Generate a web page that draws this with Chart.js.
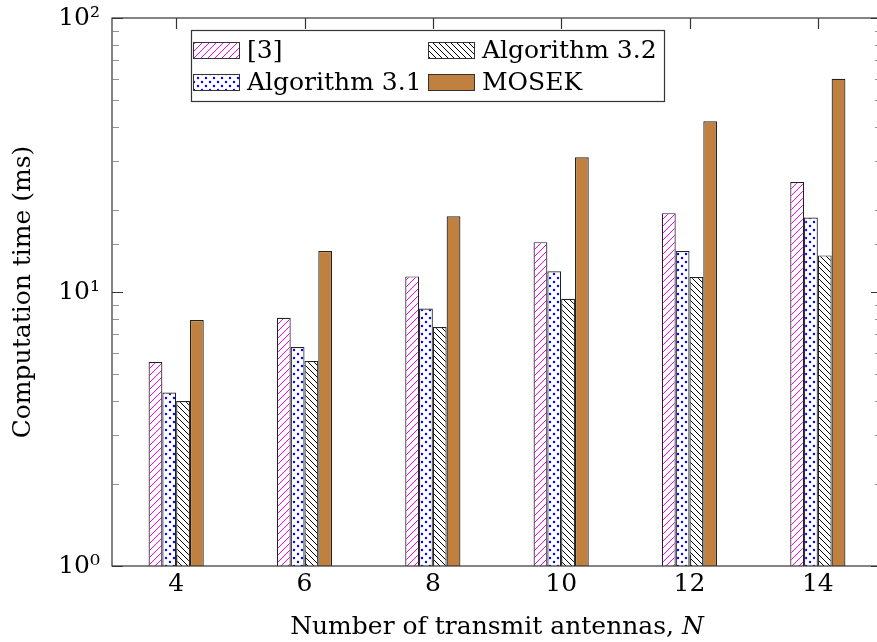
<!DOCTYPE html>
<html>
<head>
<meta charset="utf-8">
<script src="https://cdn.jsdelivr.net/npm/chart.js@4"></script>
<style>
  html, body { margin: 0; padding: 0; background: #fff; overflow: hidden; }
  canvas { display: block; }
</style>
</head>
<body>
<canvas id="timeChart" width="882" height="642"></canvas>
<script>
// number of transmit antennas
const antennas = ['4', '6', '8', '10', '12', '14'];

// computation time (ms)
const ref3Times = [5.55, 8.05, 11.4, 15.2, 19.4, 25.2];
const alg31Times = [4.3, 6.3, 8.7, 11.9, 14.1, 18.7];
const alg32Times = [4.0, 5.6, 7.45, 9.45, 11.35, 13.6];
const mosekTimes = [7.9, 14.1, 18.9, 31.0, 42.0, 60.0];

const seriesNames = ['[3]', 'Algorithm 3.1', 'Algorithm 3.2', 'MOSEK'];
const yTickLabels = { 1: '10\u2070', 10: '10\u00b9', 100: '10\u00b2' };

const FONT = "'DejaVu Serif', 'Liberation Serif', serif";
const FONT_SIZE = 25;

function makePattern(kind) {
    const c = document.createElement('canvas');
    const p = c.getContext('2d');
    if (kind === 'ne') {
        c.width = 7; c.height = 7;
        p.fillStyle = '#fff'; p.fillRect(0, 0, 7, 7);
        p.strokeStyle = '#ff00ff'; p.lineWidth = 1;
        p.beginPath();
        p.moveTo(-1, 8); p.lineTo(8, -1);
        p.moveTo(-1, 1); p.lineTo(1, -1);
        p.moveTo(6, 8); p.lineTo(8, 6);
        p.stroke();
    } else if (kind === 'nw') {
        c.width = 6; c.height = 6;
        p.fillStyle = '#fff'; p.fillRect(0, 0, 6, 6);
        p.strokeStyle = '#000'; p.lineWidth = 1;
        p.beginPath();
        p.moveTo(-1, -1); p.lineTo(7, 7);
        p.moveTo(5, -1); p.lineTo(7, 1);
        p.moveTo(-1, 5); p.lineTo(1, 7);
        p.stroke();
    } else {
        c.width = 8; c.height = 8;
        p.fillStyle = '#fff'; p.fillRect(0, 0, 8, 8);
        p.fillStyle = '#0000ff';
        p.beginPath(); p.arc(2, 2, 1.2, 0, Math.PI * 2); p.fill();
        p.beginPath(); p.arc(6, 6, 1.2, 0, Math.PI * 2); p.fill();
    }
    return p.createPattern(c, 'repeat');
}

const fills = [makePattern('ne'), makePattern('dots'), makePattern('nw'), '#bf8040'];
const seriesData = [ref3Times, alg31Times, alg32Times, mosekTimes];

// frame, inward ticks, x title with italic N, and the boxed legend
const framePlugin = {
    id: 'frame',
    afterDraw(chart) {
        const ctx = chart.ctx;
        const a = chart.chartArea;
        const xs = chart.scales.x;
        const ys = chart.scales.y;
        ctx.save();
        ctx.strokeStyle = '#333';
        ctx.lineWidth = 1.2;
        ctx.strokeRect(a.left, a.top, a.right - a.left, a.bottom - a.top);

        // x ticks, bottom and top
        ctx.beginPath();
        antennas.forEach((_, i) => {
            const px = Math.round(xs.getPixelForTick(i)) + 0.5;
            ctx.moveTo(px, a.bottom); ctx.lineTo(px, a.bottom - 11);
            ctx.moveTo(px, a.top); ctx.lineTo(px, a.top + 11);
        });
        ctx.stroke();

        // y ticks, left and right
        ys.ticks.forEach(t => {
            const py = Math.round(ys.getPixelForValue(t.value)) + 0.5;
            const major = yTickLabels[t.value] !== undefined;
            const len = major ? 11 : 7;
            ctx.beginPath();
            ctx.lineWidth = major ? 1.2 : 0.8;
            ctx.strokeStyle = major ? '#333' : '#777';
            ctx.moveTo(a.left, py); ctx.lineTo(a.left + len, py);
            ctx.moveTo(a.right, py); ctx.lineTo(a.right - len, py);
            ctx.stroke();
        });

        // x axis title
        ctx.fillStyle = '#000';
        ctx.textBaseline = 'alphabetic';
        const part1 = 'Number of transmit antennas, ';
        ctx.font = FONT_SIZE + 'px ' + FONT;
        const w1 = ctx.measureText(part1).width;
        ctx.font = 'italic ' + FONT_SIZE + 'px ' + FONT;
        const w2 = ctx.measureText('N').width;
        const x0 = (a.left + a.right) / 2 - (w1 + w2) / 2;
        ctx.font = FONT_SIZE + 'px ' + FONT;
        ctx.fillText(part1, x0, 634);
        ctx.font = 'italic ' + FONT_SIZE + 'px ' + FONT;
        ctx.fillText('N', x0 + w1, 634);

        // legend box
        const lx = 191, ly = 30, lw = 473, lh = 71;
        ctx.fillStyle = '#fff';
        ctx.fillRect(lx, ly, lw, lh);
        ctx.strokeStyle = '#333';
        ctx.lineWidth = 1.2;
        ctx.strokeRect(lx + 0.5, ly + 0.5, lw, lh);
        const slots = [[193, 42], [193, 74], [428, 42], [428, 74]];
        ctx.font = FONT_SIZE + 'px ' + FONT;
        ctx.textBaseline = 'middle';
        chart.data.datasets.forEach((ds, i) => {
            const [sx, sy] = slots[i];
            ctx.fillStyle = ds.backgroundColor;
            ctx.fillRect(sx, sy, 46, 16);
            ctx.strokeStyle = '#333';
            ctx.lineWidth = 1;
            ctx.strokeRect(sx + 0.5, sy + 0.5, 46, 16);
            ctx.fillStyle = '#000';
            ctx.fillText(ds.label, sx + 54, sy + 9);
        });
        ctx.restore();
    }
};

new Chart(document.getElementById('timeChart'), {
    type: 'bar',
    data: {
        labels: antennas,
        datasets: seriesNames.map((name, i) => ({
            label: name,
            data: seriesData[i],
            backgroundColor: fills[i],
            borderColor: '#222',
            borderWidth: 1.2,
            borderSkipped: 'bottom',
            categoryPercentage: 0.43,
            barPercentage: 1.0
        }))
    },
    options: {
        responsive: false,
        animation: false,
        devicePixelRatio: 1,
        layout: { padding: { left: 0, top: 18, right: 0, bottom: 0 } },
        plugins: {
            legend: { display: false },
            tooltip: { enabled: false }
        },
        scales: {
            x: {
                grid: { display: false, drawTicks: false },
                border: { display: false },
                ticks: {
                    color: '#000',
                    padding: 3,
                    font: { family: FONT, size: FONT_SIZE }
                },
                afterFit: s => { s.height = 76; }
            },
            y: {
                type: 'logarithmic',
                min: 1,
                max: 100,
                grid: { display: false, drawTicks: false },
                border: { display: false },
                ticks: {
                    color: '#000',
                    padding: 12,
                    autoSkip: false,
                    font: { family: FONT, size: FONT_SIZE, lineHeight: 0.1 },
                    callback: v => yTickLabels[v] || ''
                },
                title: {
                    display: true,
                    text: 'Computation time (ms)',
                    color: '#000',
                    padding: { top: 8, bottom: 0 },
                    font: { family: FONT, size: FONT_SIZE }
                },
                afterFit: s => { s.width = 112; }
            }
        }
    },
    plugins: [framePlugin]
});
</script>
</body>
</html>
